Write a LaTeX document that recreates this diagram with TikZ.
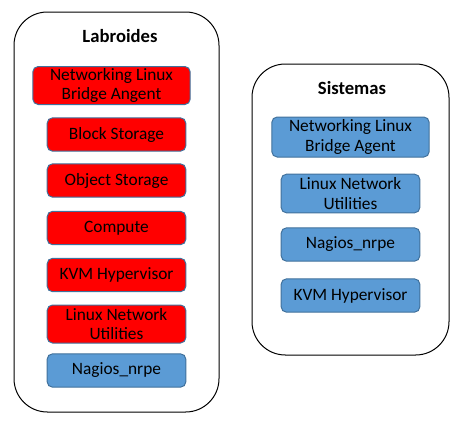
\documentclass[tikz,border=0pt]{standalone}
\usepackage{fontspec}
\setmainfont{Carlito}
\usepackage{tikz}
\usetikzlibrary{positioning}
\usepackage{xcolor}
\definecolor{boxred}{HTML}{FF0000}
\definecolor{boxblue}{HTML}{5B9BD5}
\definecolor{boxedge}{HTML}{41719C}

\begin{document}
\begin{tikzpicture}[
    x=0.75pt, y=-0.75pt,
    % Estilos de los contenedores
    group_box/.style={draw=black, line width=0.75pt, rounded corners=25pt},
    group_title/.style={font=\fontsize{14}{16}\selectfont\bfseries},
    % Estilos de los servicios
    service/.style={draw=boxedge, line width=0.75pt, rounded corners=4pt, align=center,
        inner sep=0pt, font=\fontsize{13}{14.5}\selectfont, minimum width=104pt, minimum height=25pt},
    red_service/.style={service, fill=boxred},
    blue_service/.style={service, fill=boxblue},
    wide/.style={minimum width=118pt}
]
    \useasboundingbox (0,0) rectangle (461,425);

    % --- 1. CONTENEDORES ---
    \draw[group_box] (14,12) rectangle (219,412);
    \draw[group_box] (252,64) rectangle (449,355);
    \node[group_title] (lab) at (120,36) {Labroides};
    \node[group_title] (sis) at (352,88) {Sistemas};

    % --- 2. SERVICIOS DE LABROIDES ---
    \node[red_service, wide, minimum height=28.5pt] (l1) at (111.5,85.5) {Networking Linux\\Bridge Angent};
    \node[red_service] (l2) at (116.5,134.5) {Block Storage};
    \node[red_service] (l3) at (116.5,180.5) {Object Storage};
    \node[red_service] (l4) at (116.5,228) {Compute};
    \node[red_service] (l5) at (116.5,275) {KVM Hypervisor};
    \node[red_service, minimum height=28.5pt] (l6) at (116.5,324) {Linux Network\\Utilities};
    \node[blue_service] (l7) at (116.5,370.5) {Nagios\_nrpe};

    % --- 3. SERVICIOS DE SISTEMAS ---
    \node[blue_service, wide, minimum height=30pt] (s1) at (350.5,137) {Networking Linux\\Bridge Agent};
    \node[blue_service, minimum height=29pt] (s2) at (350.5,193.5) {Linux Network\\Utilities};
    \node[blue_service] (s3) at (350.5,244.5) {Nagios\_nrpe};
    \node[blue_service] (s4) at (350.5,295.5) {KVM Hypervisor};

\end{tikzpicture}
\end{document}
